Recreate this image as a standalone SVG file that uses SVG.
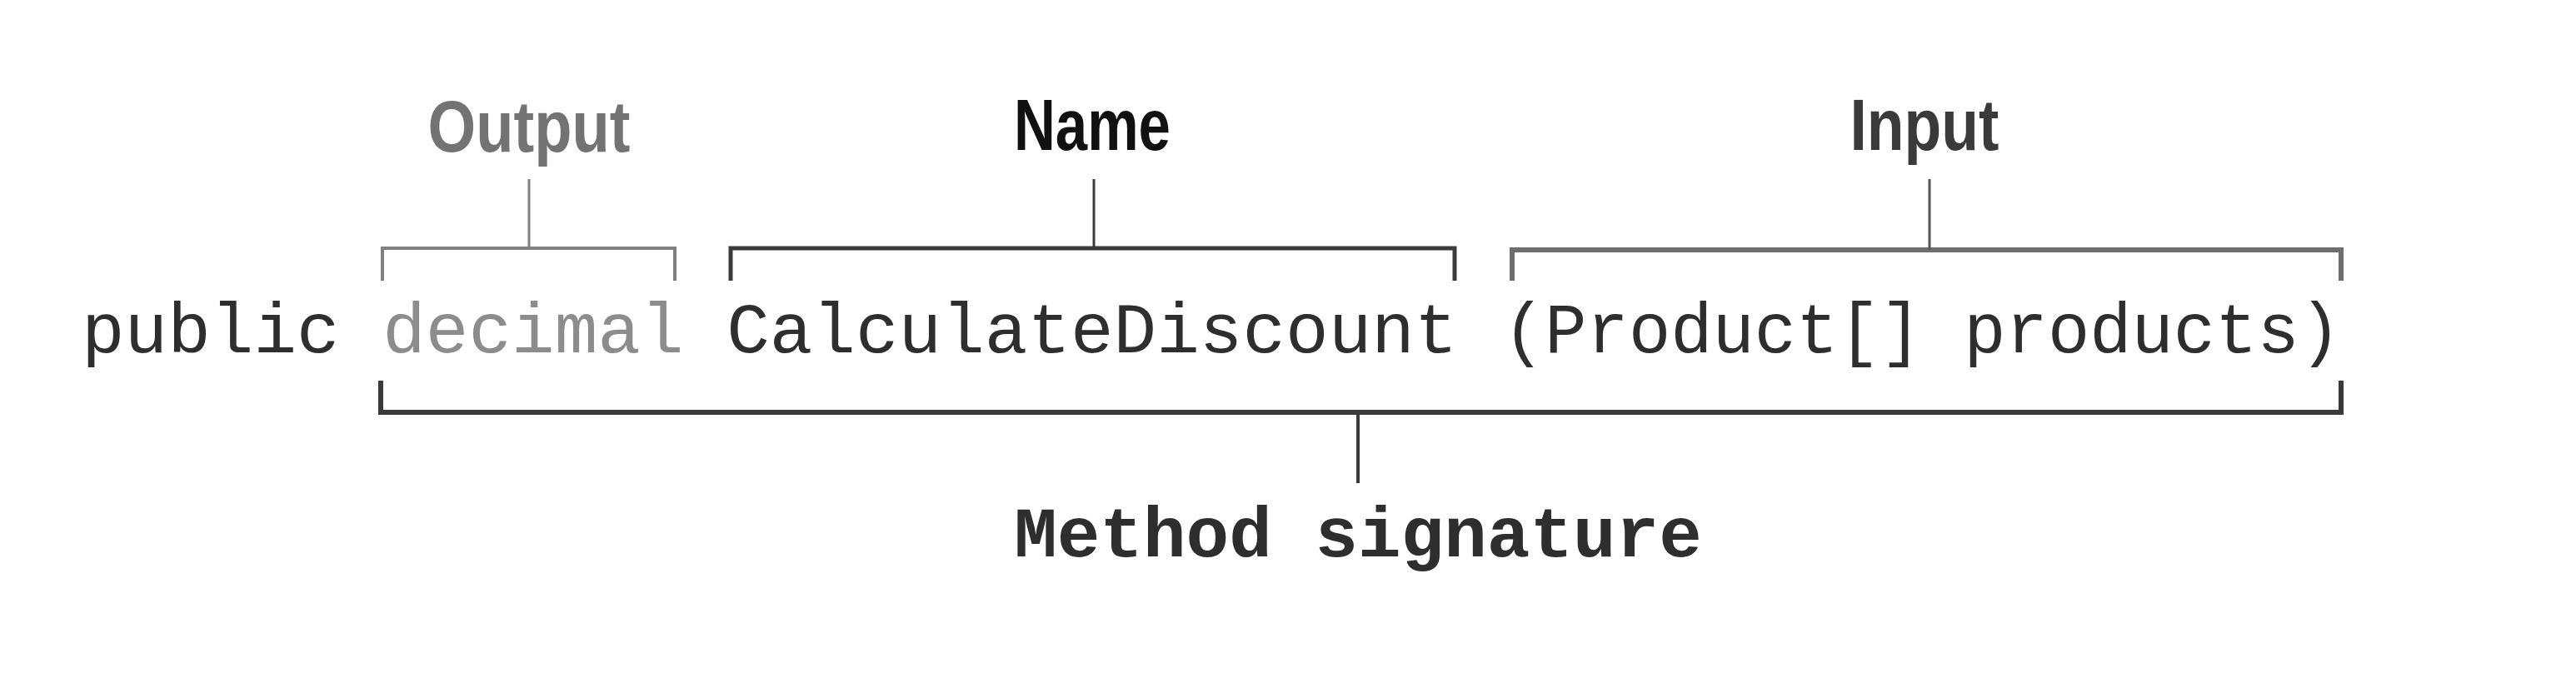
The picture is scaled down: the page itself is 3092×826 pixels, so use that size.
<svg xmlns="http://www.w3.org/2000/svg" width="3092" height="826" viewBox="0 0 3092 826">
<style>
.code{font-family:"Liberation Mono","Courier New",monospace;font-size:86px;fill:#2e2e2e}
.lbl{font-family:"Liberation Sans",Arial,sans-serif;font-weight:bold;font-size:88px}
.br{fill:none;stroke-linecap:butt;stroke-linejoin:miter}
</style>
<rect width="3092" height="826" fill="#ffffff"/>
<g id="connectors">
<path class="br" d="M459,337 V298 H810 V337" stroke="#808080" stroke-width="4"/>
<line x1="635" y1="215" x2="635" y2="298" stroke="#808080" stroke-width="3"/>
<path class="br" d="M877,337 V298 H1746 V337" stroke="#3a3a3a" stroke-width="5"/>
<line x1="1313" y1="215" x2="1313" y2="298" stroke="#3a3a3a" stroke-width="3"/>
<path class="br" d="M1815,337 V300 H2810 V337" stroke="#6e6e6e" stroke-width="6"/>
<line x1="2316" y1="215" x2="2316" y2="300" stroke="#555555" stroke-width="3"/>
<path class="br" d="M457,457 V495 H2810 V457" stroke="#3a3a3a" stroke-width="6"/>
<line x1="1630" y1="495" x2="1630" y2="580" stroke="#3a3a3a" stroke-width="4"/>
</g>
<g id="output">
<text class="lbl" x="635" y="182" text-anchor="middle" textLength="243" lengthAdjust="spacingAndGlyphs" fill="#737373">Output</text>
</g>
<g id="name">
<text class="lbl" x="1311" y="180" text-anchor="middle" textLength="188" lengthAdjust="spacingAndGlyphs" fill="#111111">Name</text>
</g>
<g id="input">
<text class="lbl" x="2310" y="180" text-anchor="middle" textLength="179" lengthAdjust="spacingAndGlyphs" fill="#3a3a3a">Input</text>
</g>
<g id="signature-code">
<text class="code" x="98" y="423">public <tspan fill="#8c8c8c">decimal</tspan> CalculateDiscount</text>
<text class="code" x="1804" y="423" textLength="1006" lengthAdjust="spacingAndGlyphs">(Product[] products)</text>
</g>
<g id="method-signature">
<text class="code" x="1630" y="668" text-anchor="middle" font-weight="bold" fill="#222222">Method signature</text>
</g>
</svg>
